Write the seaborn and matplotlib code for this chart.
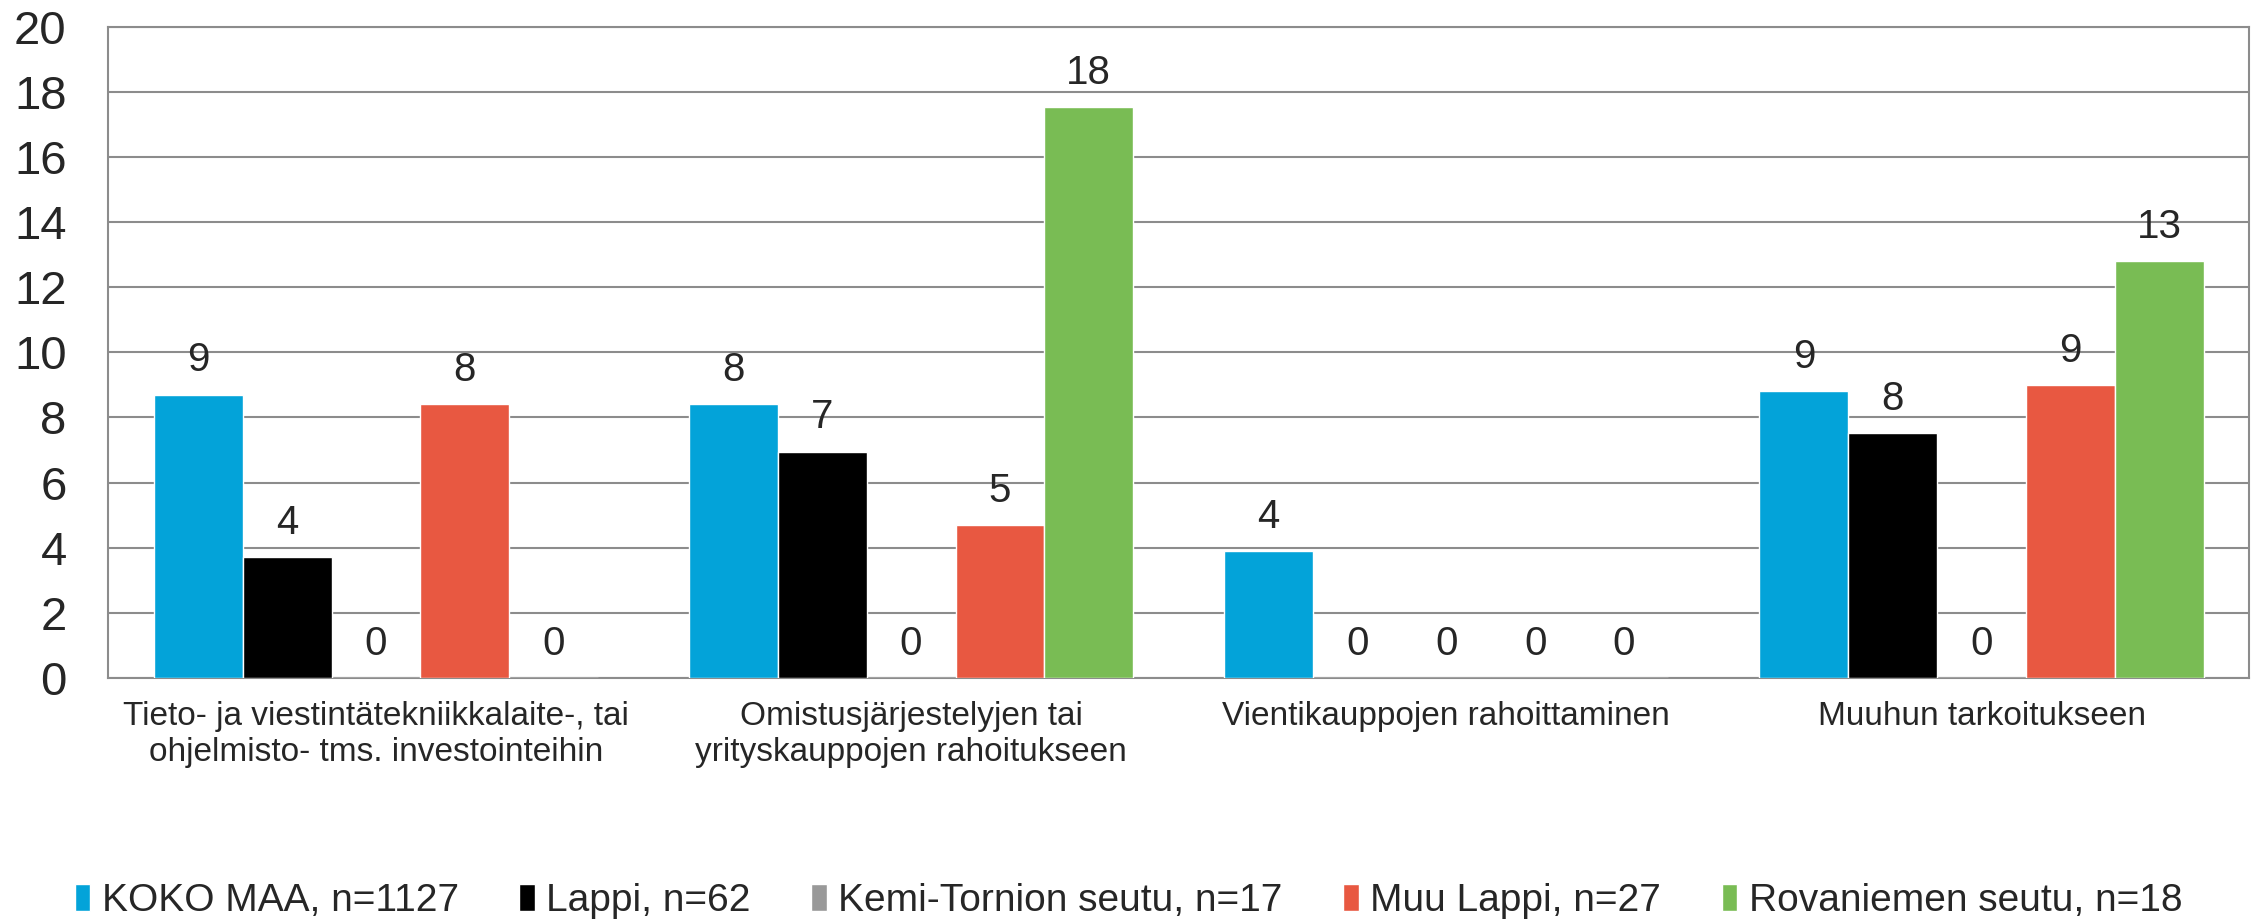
import pandas as pd
import numpy as np
import matplotlib
matplotlib.use("Agg")
import matplotlib.pyplot as plt
import seaborn as sns

categories = [
    "Tieto- ja viestintätekniikkalaite-, tai\nohjelmisto- tms. investointeihin",
    "Omistusjärjestelyjen tai\nyrityskauppojen rahoitukseen",
    "Vientikauppojen rahoittaminen",
    "Muuhun tarkoitukseen",
]
series = ["KOKO MAA, n=1127", "Lappi, n=62", "Kemi-Tornion seutu, n=17",
          "Muu Lappi, n=27", "Rovaniemen seutu, n=18"]
koko_maa  = [8.7, 8.4, 3.9, 8.8]
lappi     = [3.7, 6.95, 0, 7.52]
kemi      = [0, 0, 0, 0]
muu_lappi = [8.4, 4.7, 0, 9.0]
rovaniemi = [0, 17.52, 0, 12.8]
colors = ["#03A3D9", "#000000", "#999999", "#E85841", "#79BC54"]

rows = []
for name, vals in zip(series, [koko_maa, lappi, kemi, muu_lappi, rovaniemi]):
    for cat, v in zip(categories, vals):
        rows.append({"cat": cat, "series": name, "value": v})
df = pd.DataFrame(rows)

sns.set_style("white")
plt.rcParams["font.family"] = ["Liberation Sans", "DejaVu Sans"]

fig, ax = plt.subplots(figsize=(22.57, 9.21), dpi=100)
fig.subplots_adjust(left=0.048, right=0.9965, top=0.971, bottom=0.264)

sns.barplot(data=df, x="cat", y="value", hue="series", palette=colors,
            width=0.83, saturation=1, errorbar=None, ax=ax, zorder=3)

for cont in ax.containers:
    ax.bar_label(cont, fmt="%.0f", padding=11, fontsize=29)

ax.set_ylim(0, 20)
ax.set_yticks(np.arange(0, 21, 2))
ax.yaxis.grid(True, color="#8C8C8C", lw=1.5, zorder=0)
ax.set_axisbelow(True)
for sp in ax.spines.values():
    sp.set_color("#8C8C8C")
    sp.set_linewidth(1.5)
ax.tick_params(axis="y", labelsize=34, length=0, pad=30)
ax.tick_params(axis="x", labelsize=24, length=0, pad=17)
ax.set_xlabel("")
ax.set_ylabel("")

handles, labels = ax.get_legend_handles_labels()
ax.legend(handles, labels, loc="center", bbox_to_anchor=(0.5, 0.022),
          bbox_transform=fig.transFigure, ncol=5, frameon=False,
          fontsize=28, handlelength=0.4, handleheight=0.7,
          handletextpad=0.3, columnspacing=1.55)

plt.savefig("out.png", dpi=100)
plt.close()
